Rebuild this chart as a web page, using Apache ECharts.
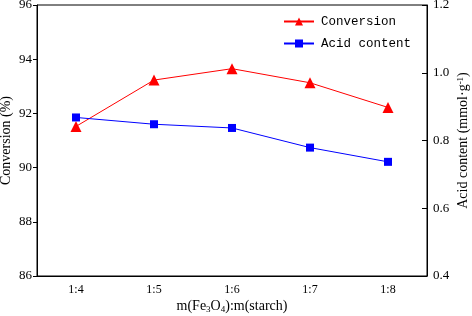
<!DOCTYPE html>
<html lang="en">
<head>
	<meta charset="UTF-8">
	<title>Conversion and acid content</title>
	<style>
		html,body{background-color:#fff;margin:0;padding:0;overflow:hidden;}
		#main{width:472px;height:316px;}
	</style>
</head>
<body>
	<div id="main"></div>
	<script src="https://cdn.jsdelivr.net/npm/echarts@6/dist/echarts.min.js"></script>
	<script>
		var ratios = ['1:4', '1:5', '1:6', '1:7', '1:8'];
		var conversion = [91.52, 93.23, 93.65, 93.13, 92.22];
		var acidContent = [0.868, 0.848, 0.837, 0.779, 0.737];

		var serif = '"Liberation Serif", "Times New Roman", serif';
		var chart = echarts.init(document.getElementById('main'));
		var option = {
			animation: false,
			grid: {
				left: 37, right: 45, top: 5, bottom: 40,
				outerBoundsMode: 'none',
				containLabel: false,
				show: true, borderColor: '#000', borderWidth: 1
			},
			legend: {
				orient: 'vertical',
				left: 283, top: 15, padding: 0,
				itemWidth: 30, itemHeight: 10, itemGap: 9,
				textStyle: {color: '#000', fontFamily: '"Liberation Mono", monospace', fontSize: 12.5, padding: [0, 0, 0, 2]},
				data: ['Conversion', 'Acid content']
			},
			xAxis: {
				type: 'category',
				data: ratios,
				boundaryGap: true,
				axisLine: {lineStyle: {color: '#000', width: 1}},
				axisTick: {inside: true, alignWithLabel: true, length: 5, lineStyle: {color: '#000'}},
				axisLabel: {color: '#000', fontFamily: serif, fontSize: 12, margin: 8},
				name: 'm(Fe{sub|3}O{sub|4}):m(starch)',
				nameLocation: 'middle',
				nameMoveOverlap: false,
				nameGap: 23,
				nameTextStyle: {
					color: '#000', fontFamily: serif, fontSize: 14,
					rich: {sub: {fontFamily: serif, fontSize: 9, verticalAlign: 'bottom', padding: [6, 0, 0, 0]}}
				}
			},
			yAxis: [{
				type: 'value',
				min: 86, max: 96, interval: 2,
				splitLine: {show: false},
				axisLine: {show: true, lineStyle: {color: '#000', width: 1}},
				axisTick: {show: true, inside: false, length: 4, lineStyle: {color: '#000'}},
				axisLabel: {color: '#000', fontFamily: serif, fontSize: 13, margin: 5},
				name: 'Conversion (%)',
				nameLocation: 'middle',
				nameMoveOverlap: false,
				nameRotate: 90,
				nameGap: 24,
				nameTextStyle: {color: '#000', fontFamily: serif, fontSize: 14}
			}, {
				type: 'value',
				position: 'right',
				min: 0.4, max: 1.2, interval: 0.2,
				splitLine: {show: false},
				axisLine: {show: true, lineStyle: {color: '#000', width: 1}},
				axisTick: {show: true, inside: true, length: 5, lineStyle: {color: '#000'}},
				axisLabel: {
					color: '#000', fontFamily: serif, fontSize: 13, margin: 6,
					formatter: function (v) { return v.toFixed(1); }
				},
				name: 'Acid content (mmol·g{sup|-1})',
				nameLocation: 'middle',
				nameMoveOverlap: false,
				nameRotate: 90,
				nameGap: 29,
				nameTextStyle: {
					color: '#000', fontFamily: serif, fontSize: 14,
					rich: {sup: {fontFamily: serif, fontSize: 9, verticalAlign: 'top', padding: [0, 0, 5, 0]}}
				}
			}],
			series: [{
				name: 'Conversion',
				type: 'line',
				yAxisIndex: 0,
				data: conversion,
				symbol: 'triangle',
				symbolSize: 11,
				color: '#ff0000',
				lineStyle: {width: 1, color: '#ff0000'},
				itemStyle: {color: '#ff0000'}
			}, {
				name: 'Acid content',
				type: 'line',
				yAxisIndex: 1,
				data: acidContent,
				symbol: 'rect',
				symbolSize: 8,
				color: '#0000ff',
				lineStyle: {width: 1, color: '#0000ff'},
				itemStyle: {color: '#0000ff'}
			}]
		};
		chart.setOption(option);
	</script>
</body>
</html>
